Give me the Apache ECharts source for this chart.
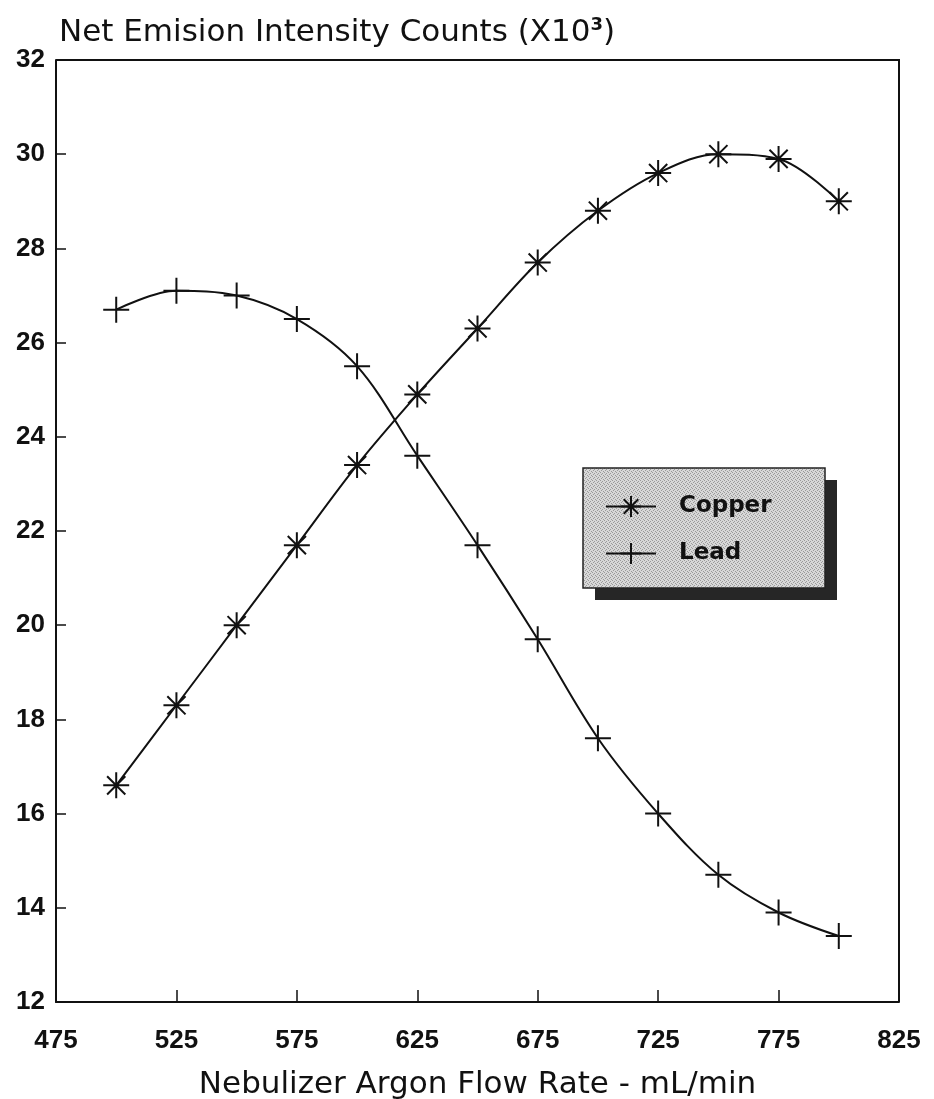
<!DOCTYPE html>
<html>
<head>
<meta charset="utf-8">
<script src="https://cdn.jsdelivr.net/npm/echarts@6/dist/echarts.min.js"></script>
<style>html,body{margin:0;padding:0;background:#fff;}#c{width:934px;height:1099px;}</style>
</head>
<body>
<div id="c"></div>
<script>
const flowRates = [500, 525, 550, 575, 600, 625, 650, 675, 700, 725, 750, 775, 800];
const copper = [16.6, 18.3, 20.0, 21.7, 23.4, 24.9, 26.3, 27.7, 28.8, 29.6, 30.0, 29.9, 29.0];
const lead = [26.7, 27.1, 27.0, 26.5, 25.5, 23.6, 21.7, 19.7, 17.6, 16.0, 14.7, 13.9, 13.4];
const xTicks = [475, 525, 575, 625, 675, 725, 775, 825];

const asterisk = 'path://M0,10L20,10M10,0L10,20M3,3L17,17M17,3L3,17';
const plus = 'path://M0,10L20,10M10,0L10,20';

// stippled fill for legend box
const pc = document.createElement('canvas');
pc.width = 4; pc.height = 4;
const pctx = pc.getContext('2d');
pctx.fillStyle = '#d8d8d8'; pctx.fillRect(0, 0, 4, 4);
pctx.fillStyle = '#9a9a9a';
[[0,0],[2,1],[1,2],[3,3]].forEach(p => pctx.fillRect(p[0], p[1], 1, 1));

const chart = echarts.init(document.getElementById('c'), null, {renderer: 'canvas'});
const mk = (arr) => flowRates.map((x, i) => [x, arr[i]]);
const font = 'Liberation Sans, Arial, sans-serif';
const wide = 'DejaVu Sans, Verdana, sans-serif';

chart.setOption({
  animation: false,
  backgroundColor: '#ffffff',
  title: {
    text: '{a|Net Emision Intensity Counts (X10}{s|3}{a|)}',
    left: 54, top: 11,
    textStyle: {
      rich: {
        a: {fontSize: 31, fontFamily: wide, fontWeight: 'normal', color: '#111'},
        s: {fontSize: 18, fontFamily: wide, color: '#111', verticalAlign: 'top', padding: [0, 0, 16, 0]}
      }
    }
  },
  grid: {left: 56, right: 35, top: 60, bottom: 97, outerBoundsMode: 'none', containLabel: false},
  legend: {
    left: 583, top: 468, z: 10,
    orient: 'vertical',
    itemWidth: 50, itemHeight: 26, itemGap: 24,
    padding: [27, 20, 20, 22],
    backgroundColor: 'transparent',
    textStyle: {fontSize: 23, fontWeight: 'bold', fontFamily: wide, color: '#111', padding: [0, 0, 0, 18]},
    data: ['Copper', 'Lead']
  },
  xAxis: {
    type: 'value', min: 475, max: 825,
    axisLine: {show: true, lineStyle: {color: '#111', width: 2}},
    axisTick: {show: true, inside: true, length: 12, customValues: xTicks, lineStyle: {color: '#111', width: 1.5}},
    axisLabel: {customValues: xTicks, margin: 26, fontSize: 26, fontWeight: 'bold', fontFamily: font, color: '#111', hideOverlap: false},
    splitLine: {show: false},
    name: 'Nebulizer Argon Flow Rate - mL/min',
    nameLocation: 'middle', nameGap: 67,
    nameTextStyle: {fontSize: 31, fontFamily: wide, color: '#111'}
  },
  yAxis: {
    type: 'value', min: 12, max: 32, interval: 2,
    axisLine: {show: true, lineStyle: {color: '#111', width: 2}},
    axisTick: {show: true, inside: true, length: 10, lineStyle: {color: '#111', width: 1.5}},
    axisLabel: {margin: 11, fontSize: 26, fontWeight: 'bold', fontFamily: font, color: '#111'},
    splitLine: {show: false}
  },
  series: [
    {
      name: 'Copper', type: 'line', data: mk(copper), smooth: 0.35,
      symbol: asterisk, symbolSize: 26,
      lineStyle: {color: '#111', width: 2},
      itemStyle: {color: 'rgba(0,0,0,0)', borderColor: '#111', borderWidth: 2}
    },
    {
      name: 'Lead', type: 'line', data: mk(lead), smooth: 0.35,
      symbol: plus, symbolSize: 26,
      lineStyle: {color: '#111', width: 2},
      itemStyle: {color: 'rgba(0,0,0,0)', borderColor: '#111', borderWidth: 2}
    }
  ]
});
const g = chart.getModel().getComponent('grid').coordinateSystem.getRect();
chart.setOption({
  graphic: [
    {
      type: 'polyline', silent: true, z: 5,
      shape: {points: [[g.x, g.y], [g.x + g.width, g.y], [g.x + g.width, g.y + g.height]]},
      style: {stroke: '#111', lineWidth: 2, fill: null}
    },
    {
      type: 'rect', silent: true, z: 1,
      shape: {x: 595, y: 480, width: 242, height: 120},
      style: {fill: '#262626'}
    },
    {
      type: 'rect', silent: true, z: 2,
      shape: {x: 583, y: 468, width: 242, height: 120},
      style: {fill: {image: pc, repeat: 'repeat'}, stroke: '#222', lineWidth: 1.5}
    }
  ]
});
</script>
</body>
</html>
